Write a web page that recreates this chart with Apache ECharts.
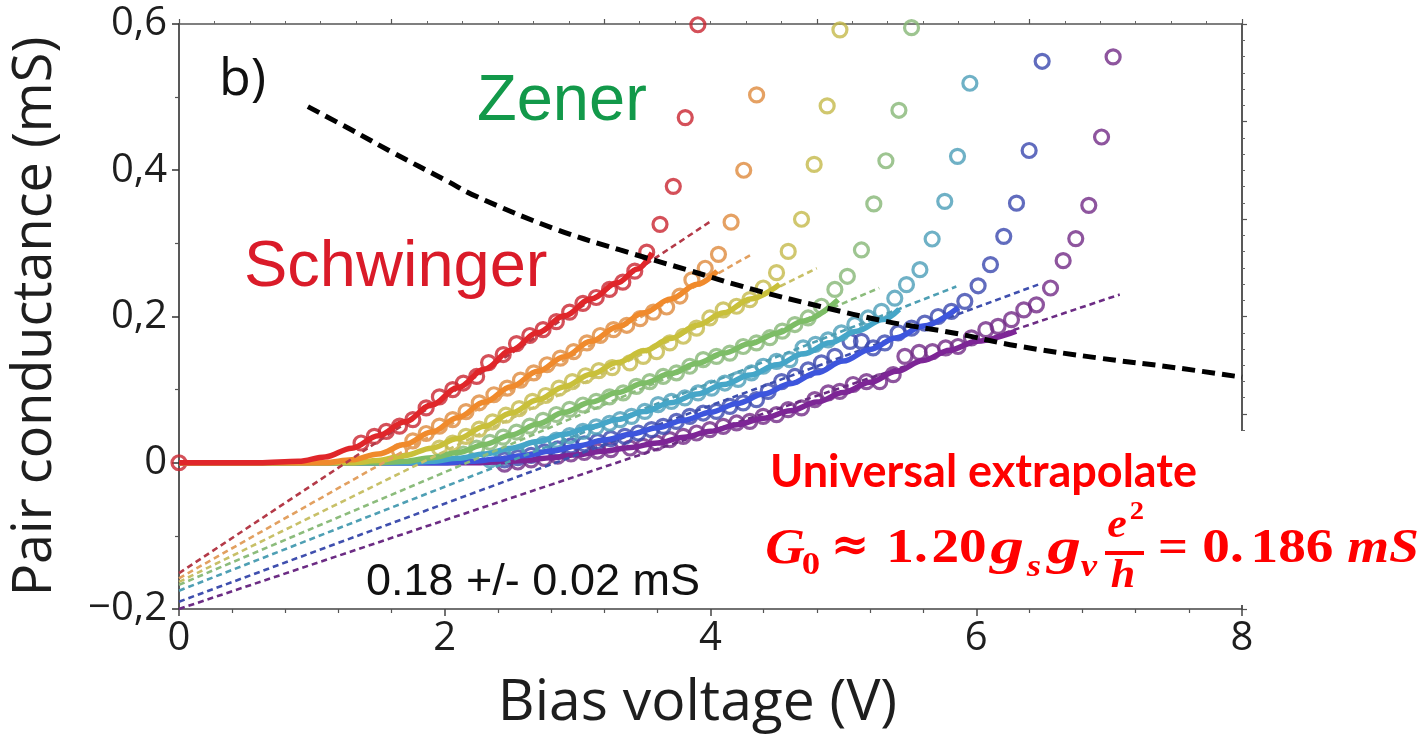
<!DOCTYPE html>
<html>
<head>
<meta charset="utf-8">
<script src="https://cdn.jsdelivr.net/npm/echarts@6/dist/echarts.min.js"></script>
<style>
  html, body { margin: 0; padding: 0; background: #ffffff; }
  #chart { width: 1423px; height: 734px; }
</style>
</head>
<body>
<div id="chart"></div>
<script>
// Axis ranges and tick steps
const xTicks = [0, 2, 4, 6, 8];
const yTicks = [-0.2, 0, 0.2, 0.4, 0.6];

// Measured pair conductance (mS) vs bias voltage (V), one sweep per colour
const redPoints = [[0,0],[1.37,0.027],[1.47,0.036],[1.56,0.043],[1.66,0.05],[1.76,0.059],[1.86,0.075],[1.96,0.09],[2.06,0.1],[2.14,0.109],[2.24,0.118],[2.33,0.137],[2.44,0.148],[2.54,0.163],[2.64,0.174],[2.74,0.182],[2.84,0.193],[2.94,0.206],[3.04,0.218],[3.14,0.226],[3.24,0.237],[3.34,0.247],[3.43,0.262],[3.52,0.288],[3.62,0.326],[3.72,0.378],[3.81,0.472],[3.905,0.599]];
const orangePoints = [[1.66,0.016],[1.76,0.03],[1.86,0.04],[1.96,0.05],[2.06,0.059],[2.16,0.07],[2.26,0.082],[2.37,0.093],[2.47,0.102],[2.57,0.113],[2.67,0.123],[2.77,0.134],[2.87,0.143],[2.97,0.152],[3.07,0.164],[3.17,0.174],[3.27,0.182],[3.37,0.188],[3.47,0.197],[3.57,0.206],[3.67,0.213],[3.77,0.228],[3.86,0.25],[3.96,0.266],[4.06,0.285],[4.155,0.329],[4.25,0.4],[4.347,0.503]];
const yellowPoints = [[1.96,0.02],[2.06,0.027],[2.16,0.036],[2.26,0.046],[2.36,0.056],[2.46,0.065],[2.56,0.074],[2.66,0.084],[2.76,0.092],[2.86,0.102],[2.96,0.111],[3.06,0.119],[3.16,0.126],[3.26,0.13],[3.393,0.1365],[3.494,0.1455],[3.594,0.152],[3.694,0.164],[3.795,0.173],[3.895,0.184],[3.995,0.198],[4.096,0.209],[4.196,0.214],[4.296,0.223],[4.397,0.239],[4.497,0.26],[4.585,0.289],[4.685,0.333],[4.78,0.408],[4.878,0.488],[4.974,0.592]];
const greenPoints = [[2.14,0.012],[2.24,0.02],[2.34,0.028],[2.44,0.035],[2.54,0.042],[2.64,0.05],[2.74,0.058],[2.84,0.066],[2.94,0.073],[3.04,0.079],[3.14,0.084],[3.24,0.09],[3.343,0.0955],[3.443,0.1045],[3.543,0.111],[3.644,0.118],[3.744,0.123],[3.844,0.132],[3.945,0.141],[4.045,0.1455],[4.146,0.15],[4.246,0.159],[4.346,0.164],[4.447,0.171],[4.54,0.18],[4.635,0.189],[4.735,0.198],[4.835,0.214],[4.936,0.237],[5.03,0.255],[5.136,0.291],[5.229,0.354],[5.32,0.413],[5.418,0.482],[5.513,0.595]];
const tealPoints = [[2.34,0.004],[2.44,0.008],[2.54,0.013],[2.64,0.019],[2.74,0.025],[2.84,0.031],[2.94,0.037],[3.04,0.043],[3.14,0.049],[3.24,0.054],[3.32,0.059],[3.406,0.0635],[3.506,0.0703],[3.606,0.0795],[3.706,0.084],[3.807,0.0886],[3.907,0.0955],[4.008,0.102],[4.108,0.109],[4.208,0.114],[4.308,0.123],[4.397,0.132],[4.497,0.1387],[4.597,0.141],[4.697,0.157],[4.79,0.162],[4.885,0.168],[4.985,0.1775],[5.086,0.189],[5.186,0.198],[5.287,0.207],[5.387,0.225],[5.475,0.2436],[5.576,0.264],[5.668,0.306],[5.763,0.3575],[5.859,0.419],[5.952,0.519]];
const bluePoints = [[2.45,0.004],[2.55,0.007],[2.65,0.01],[2.75,0.015],[2.85,0.019],[2.95,0.023],[3.05,0.026],[3.15,0.029],[3.25,0.033],[3.355,0.036],[3.456,0.0407],[3.556,0.0453],[3.644,0.0498],[3.744,0.0566],[3.844,0.0635],[3.945,0.068],[4.045,0.0703],[4.146,0.0771],[4.246,0.0818],[4.346,0.0863],[4.434,0.0976],[4.535,0.111],[4.635,0.118],[4.735,0.127],[4.835,0.1365],[4.936,0.1455],[5.05,0.166],[5.136,0.166],[5.224,0.157],[5.312,0.164],[5.412,0.1775],[5.513,0.184],[5.613,0.191],[5.713,0.2],[5.813,0.207],[5.914,0.2207],[6.014,0.242],[6.107,0.271],[6.207,0.3096],[6.303,0.355],[6.398,0.427],[6.496,0.549]];
const purplePoints = [[2.45,-0.002],[2.55,0.001],[2.65,0.004],[2.75,0.006],[2.85,0.009],[2.95,0.012],[3.05,0.014],[3.15,0.016],[3.25,0.018],[3.394,0.0202],[3.494,0.0224],[3.594,0.027],[3.694,0.0316],[3.795,0.036],[3.895,0.0407],[3.995,0.0453],[4.096,0.0498],[4.196,0.0544],[4.296,0.0566],[4.396,0.0635],[4.497,0.0658],[4.585,0.0726],[4.685,0.075],[4.785,0.0863],[4.886,0.0955],[4.973,0.0976],[5.073,0.107],[5.174,0.111],[5.274,0.111],[5.375,0.1205],[5.463,0.1455],[5.57,0.151],[5.67,0.152],[5.77,0.157],[5.863,0.159],[5.964,0.1707],[6.072,0.182],[6.164,0.1865],[6.265,0.1957],[6.358,0.209],[6.453,0.216],[6.559,0.239],[6.654,0.2764],[6.749,0.3065],[6.847,0.352],[6.943,0.4455],[7.03,0.555]];

// Model fits through each sweep
const redFit = [[0,0],[0.6,0],[0.9,0.002],[1.1,0.008],[1.3,0.02],[1.5,0.037],[1.7,0.056],[1.9,0.079],[2.1,0.103],[2.3,0.128],[2.5,0.154],[2.7,0.178],[2.9,0.201],[3.1,0.224],[3.3,0.246],[3.45,0.265],[3.56,0.287]];
const orangeFit = [[0,0],[1.1,0],[1.3,0.004],[1.5,0.012],[1.7,0.025],[1.9,0.042],[2.1,0.062],[2.3,0.083],[2.5,0.104],[2.7,0.125],[2.9,0.145],[3.1,0.166],[3.3,0.186],[3.5,0.205],[3.7,0.224],[3.9,0.244],[4.05,0.262]];
const yellowFit = [[0,0],[1.3,0],[1.5,0.003],[1.7,0.01],[1.9,0.02],[2.1,0.033],[2.3,0.05],[2.5,0.068],[2.7,0.086],[2.9,0.104],[3.1,0.121],[3.3,0.137],[3.5,0.153],[3.7,0.17],[3.9,0.188],[4.1,0.205],[4.3,0.224],[4.52,0.244]];
const greenFit = [[0,0],[1.5,0],[1.7,0.002],[1.9,0.007],[2.1,0.014],[2.3,0.025],[2.5,0.038],[2.7,0.053],[2.9,0.069],[3.1,0.083],[3.3,0.096],[3.5,0.109],[3.7,0.122],[3.9,0.136],[4.1,0.15],[4.3,0.163],[4.5,0.177],[4.7,0.194],[4.96,0.223]];
const tealFit = [[0,0],[1.7,0],[1.9,0.002],[2.1,0.006],[2.3,0.012],[2.5,0.02],[2.7,0.029],[2.9,0.039],[3.1,0.049],[3.3,0.059],[3.5,0.07],[3.7,0.082],[3.9,0.094],[4.1,0.107],[4.3,0.12],[4.5,0.134],[4.7,0.149],[4.9,0.164],[5.1,0.18],[5.3,0.196],[5.42,0.21]];
const blueFit = [[0,0],[2.0,0],[2.2,0.002],[2.4,0.005],[2.6,0.01],[2.8,0.016],[3.0,0.023],[3.2,0.031],[3.4,0.039],[3.6,0.048],[3.8,0.058],[4.0,0.069],[4.2,0.081],[4.4,0.094],[4.6,0.108],[4.8,0.123],[5.0,0.139],[5.2,0.155],[5.4,0.171],[5.6,0.187],[5.864,0.212]];
const purpleFit = [[0,0],[2.2,0],[2.4,0.001],[2.6,0.003],[2.8,0.007],[3.0,0.011],[3.2,0.016],[3.4,0.021],[3.6,0.027],[3.8,0.035],[4.0,0.043],[4.2,0.052],[4.4,0.061],[4.6,0.071],[4.8,0.083],[5.0,0.096],[5.2,0.11],[5.4,0.125],[5.6,0.14],[5.8,0.154],[6.0,0.166],[6.3,0.18]];

// Linear extrapolations of the high-bias slope back to zero bias
const redExtrap = [[0,-0.151],[4.0,0.33]];
const orangeExtrap = [[0,-0.158],[4.31,0.285]];
const yellowExtrap = [[0,-0.163],[4.8,0.266]];
const greenExtrap = [[0,-0.167],[5.27,0.239]];
const tealExtrap = [[0,-0.175],[5.85,0.241]];
const blueExtrap = [[0,-0.19],[6.466,0.2436]];
const purpleExtrap = [[0,-0.2],[7.08,0.23]];

// Crossover between the Schwinger and Zener regimes
const crossoverCurve = [[0.97,0.487],[1.3,0.455],[1.61,0.424],[2.0,0.387],[2.24,0.364],[2.84,0.319],[3.32,0.291],[3.82,0.264],[4.32,0.237],[4.82,0.214],[5.33,0.193],[5.83,0.1775],[6.3,0.16],[6.93,0.143],[7.5,0.13],[8.0,0.117]];

// Sweeps drawn back to front, so the low-bias (red) sweep ends on top
const sweeps = [
  { points: purplePoints, fit: purpleFit, extrap: purpleExtrap, marker: '#722a86', line: '#7d2596', dash: '#6c2c84' },
  { points: bluePoints,   fit: blueFit,   extrap: blueExtrap,   marker: '#3a47ae', line: '#3d55dd', dash: '#3f4fae' },
  { points: tealPoints,   fit: tealFit,   extrap: tealExtrap,   marker: '#4b9db8', line: '#45a6c8', dash: '#4e9fb4' },
  { points: greenPoints,  fit: greenFit,  extrap: greenExtrap,  marker: '#86b675', line: '#7dbd66', dash: '#8cbc7c' },
  { points: yellowPoints, fit: yellowFit, extrap: yellowExtrap, marker: '#c4b94a', line: '#c9c03a', dash: '#c8c068' },
  { points: orangePoints, fit: orangeFit, extrap: orangeExtrap, marker: '#df8a3c', line: '#f08a2c', dash: '#e2a060' },
  { points: redPoints,    fit: redFit,    extrap: redExtrap,    marker: '#c92430', line: '#e0262a', dash: '#b43a48' }
];

const series = [];
sweeps.forEach(s => {
  series.push({
    type: 'line', data: s.extrap, showSymbol: false, silent: true,
    lineStyle: { color: s.dash, width: 2.6, type: [6, 4] }
  });
  series.push({
    type: 'scatter', data: s.points, symbol: 'circle', symbolSize: 14,
    itemStyle: { color: 'rgba(255,255,255,0)', borderColor: s.marker, borderWidth: 3.2 }
  });
  series.push({
    type: 'line', data: s.fit, showSymbol: false, smooth: 0.35, smoothMonotone: 'x', silent: true,
    lineStyle: { color: s.line, width: 5.5 }
  });
});
series.push({
  type: 'line', data: crossoverCurve, showSymbol: false, smooth: 0.4, silent: true,
  lineStyle: { color: '#000000', width: 5, type: [13, 7] }
});

const tickFont = 'Open Sans';
const yFmt = v => {
  const r = Math.round(v * 10) / 10;
  if (r === 0) return '0';
  return r.toFixed(1).replace('.', ',').replace('-', '\u2212');
};

// Pieces of the G0 formula, centred on their x positions
const red = '#ff0000';
const serifB = 'bold {s}px "Liberation Serif"';
const serifBI = 'italic bold {s}px "Liberation Serif"';
function piece(text, cx, cy, size, italic, sx) {
  return {
    type: 'text', z: 101, x: cx, y: cy, scaleX: sx || 1,
    style: {
      text: text, x: 0, y: 0, fill: red,
      font: (italic ? serifBI : serifB).replace('{s}', size),
      textAlign: 'center', textVerticalAlign: 'middle'
    }
  };
}

const chart = echarts.init(document.getElementById('chart'), null, { renderer: 'canvas' });
chart.setOption({
  animation: false,
  backgroundColor: '#ffffff',
  grid: { left: 179, right: 181, top: 24, bottom: 125, containLabel: false, outerBoundsMode: 'none' },
  xAxis: [
    {
      type: 'value', position: 'bottom', min: xTicks[0], max: xTicks[xTicks.length - 1], interval: xTicks[1] - xTicks[0],
      axisLine: { show: true, onZero: false, lineStyle: { color: '#444', width: 1.5 } },
      axisTick: { show: true, inside: false, length: 7, lineStyle: { color: '#444', width: 1.5 } },
      minorTick: { show: true, splitNumber: 5, length: 4, lineStyle: { color: '#555', width: 1.2 } },
      splitLine: { show: false },
      axisLabel: { fontSize: 40, color: '#1e1e1e', fontFamily: tickFont, margin: 10 },
      name: 'Bias voltage (V)', nameLocation: 'middle', nameGap: 66,
      nameTextStyle: { fontSize: 57, color: '#1e1e1e', fontFamily: tickFont, padding: [0, 26, 0, 0] }
    },
    {
      type: 'value', position: 'top', min: 0, max: 5, interval: 1,
      axisLine: { show: true, onZero: false, lineStyle: { color: '#555', width: 1.5 } },
      axisTick: { show: true, inside: false, length: 5, lineStyle: { color: '#555', width: 1.2 } },
      minorTick: { show: true, splitNumber: 6, length: 3, lineStyle: { color: '#666', width: 1 } },
      splitLine: { show: false }, axisLabel: { show: false }
    }
  ],
  yAxis: [
    {
      type: 'value', position: 'left', min: yTicks[0], max: yTicks[yTicks.length - 1], interval: yTicks[1] - yTicks[0],
      axisLine: { show: true, onZero: false, lineStyle: { color: '#222', width: 1.5 } },
      axisTick: { show: true, inside: false, length: 7, lineStyle: { color: '#333', width: 1.5 } },
      minorTick: { show: true, splitNumber: 2, length: 4, lineStyle: { color: '#555', width: 1.2 } },
      splitLine: { show: false },
      axisLabel: { fontSize: 40, color: '#1e1e1e', fontFamily: tickFont, margin: 12, formatter: yFmt },
      name: 'Pair conductance (mS)', nameLocation: 'middle', nameGap: 116, nameRotate: 90,
      nameTextStyle: { fontSize: 54, color: '#1e1e1e', fontFamily: tickFont }
    },
    {
      type: 'value', position: 'right', min: 0, max: 6, interval: 1, inverse: true,
      axisLine: { show: true, onZero: false, lineStyle: { color: '#222', width: 1.5 } },
      axisTick: { show: true, inside: false, length: 5, lineStyle: { color: '#555', width: 1.2 } },
      minorTick: { show: true, splitNumber: 6, length: 3, lineStyle: { color: '#666', width: 1 } },
      splitLine: { show: false }, axisLabel: { show: false }
    }
  ],
  series: series,
  graphic: [
    { type: 'rect', z: 100, shape: { x: 760, y: 431, width: 663, height: 174 }, style: { fill: '#ffffff' } },
    { type: 'text', z: 101, style: { text: 'b)', x: 219, y: 54, font: '52px "Open Sans"', fill: '#111', textVerticalAlign: 'top' } },
    { type: 'text', z: 101, style: { text: 'Zener', x: 477, y: 102, font: '65px "Liberation Sans"', fill: '#12994a', textVerticalAlign: 'middle' } },
    { type: 'text', z: 101, style: { text: 'Schwinger', x: 244, y: 268, font: '65px "Liberation Sans"', fill: '#da1b29', textVerticalAlign: 'middle' } },
    { type: 'text', z: 101, style: { text: '0.18 +/- 0.02 mS', x: 366, y: 583, font: '45px "Liberation Sans"', fill: '#111', textVerticalAlign: 'middle' } },
    { type: 'text', z: 101, style: { text: 'Universal extrapolate', x: 770, y: 472, font: 'bold 45px Lato', fill: red, textVerticalAlign: 'middle' } },
    piece('G', 785, 550, 50, true, 1.1),
    piece('0', 811, 566, 32, false, 1.15),
    { type: 'text', z: 101, style: { text: '\u2248', x: 850, y: 548, font: 'bold 46px "DejaVu Serif"', fill: red, textAlign: 'center', textVerticalAlign: 'middle' } },
    piece('1.', 907, 550, 48, false, 1.15),
    piece('20', 959, 550, 48, false, 1.15),
    piece('g', 1007, 550, 50, true, 1.35),
    piece('s', 1034, 568, 32, true, 1.15),
    piece('g', 1064, 550, 50, true, 1.35),
    piece('v', 1089, 568, 32, true, 1.15),
    piece('e', 1117, 527, 40, true, 1.1),
    piece('2', 1137, 512, 26, false, 1.1),
    { type: 'rect', z: 101, shape: { x: 1105, y: 551, width: 39, height: 4 }, style: { fill: red } },
    piece('h', 1123, 577, 40, true, 1.1),
    piece('=', 1173, 550, 48, false, 1.1),
    piece('0.', 1223, 550, 48, false, 1.15),
    piece('186', 1292, 550, 48, false, 1.15),
    piece('mS', 1383, 550, 48, true, 1.12)
  ]
});
</script>
</body>
</html>
